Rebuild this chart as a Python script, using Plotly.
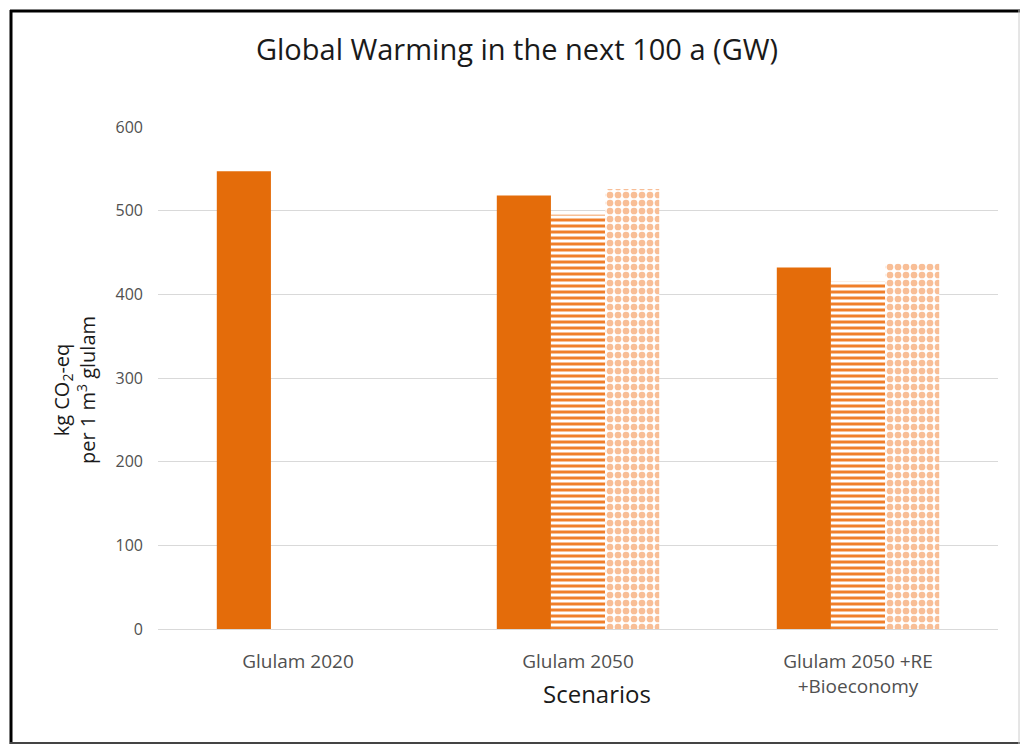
import plotly.graph_objects as go

# Scenario categories and GWP100 results (kg CO2-eq per m3 glulam)
categories = ["Glulam 2020", "Glulam 2050", "Glulam 2050 +RE<br>+Bioeconomy"]
base_values = [547, 518, 432]
variant_a_values = [None, 495, 415]
variant_b_values = [None, 526, 437]
y_ticks = [0, 100, 200, 300, 400, 500, 600]

ORANGE = "#E46C0A"
STRIPE = "#F07F2A"
CHECK = "#F8BE96"
GRID = "#D9D9D9"
TICK_COL = "#505050"
FONT = "Open Sans, Noto Sans, sans-serif"

W, H = 1020, 745
M_L, M_R, M_T, M_B = 158, 22, 127, 116
PW, PH = W - M_L - M_R, H - M_T - M_B


def px_x(x):
    return (x - M_L) / PW


def px_y(y):
    return (H - M_B - y) / PH


fig = go.Figure()
fig.add_trace(go.Bar(
    x=categories, y=base_values, name="Base",
    marker=dict(color=ORANGE, line=dict(width=0)),
))
fig.add_trace(go.Bar(
    x=categories, y=variant_a_values, name="Variant A",
    marker=dict(color="white", line=dict(width=0),
                pattern=dict(shape="-", fgcolor=STRIPE, bgcolor="white",
                             size=6, solidity=0.5, fillmode="replace")),
))
fig.add_trace(go.Bar(
    x=categories, y=variant_b_values, name="Variant B",
    marker=dict(color="white", line=dict(width=0),
                pattern=dict(shape=".", fgcolor=CHECK, bgcolor="white",
                             size=8, solidity=0.55, fillmode="replace")),
))

# frame around the whole figure
shapes = [
    dict(type="line", xref="paper", yref="paper", x0=px_x(11), x1=px_x(11),
         y0=px_y(10), y1=px_y(744), line=dict(color="black", width=3)),
    dict(type="line", xref="paper", yref="paper", x0=px_x(10), x1=px_x(1020),
         y0=px_y(11), y1=px_y(11), line=dict(color="black", width=3)),
    dict(type="line", xref="paper", yref="paper", x0=px_x(10), x1=px_x(1020),
         y0=px_y(743), y1=px_y(743), line=dict(color="#444444", width=2)),
    dict(type="line", xref="paper", yref="paper", x0=px_x(1019), x1=px_x(1019),
         y0=px_y(10), y1=px_y(744), line=dict(color="#CCCCCC", width=1)),
]

fig.update_layout(
    width=W, height=H,
    margin=dict(l=M_L, r=M_R, t=M_T, b=M_B),
    paper_bgcolor="white", plot_bgcolor="white",
    barmode="group", bargap=0.42, bargroupgap=0,
    showlegend=False,
    font=dict(family=FONT, color=TICK_COL),
    title=dict(text="Global Warming in the next 100 a (GW)",
               x=517 / W, xanchor="center", xref="container",
               y=1 - 50 / H, yanchor="middle", yref="container",
               font=dict(family=FONT, size=29, color="#1a1a1a")),
    xaxis=dict(showgrid=False, showline=True, linecolor=GRID, linewidth=1,
               ticks="", ticklabelstandoff=15,
               tickfont=dict(family=FONT, size=19, color=TICK_COL)),
    yaxis=dict(range=[0, 600], tickvals=y_ticks, showgrid=True, gridcolor=GRID,
               gridwidth=1, zeroline=False, showline=False, ticks="",
               ticklabelstandoff=14,
               tickfont=dict(family=FONT, size=16, color=TICK_COL)),
    shapes=shapes,
    annotations=[
        dict(text="kg CO<sub>2</sub>-eq<br>per 1 m<sup>3</sup> glulam",
             xref="paper", yref="paper", x=px_x(74), y=px_y(390),
             xanchor="center", yanchor="middle", textangle=-90,
             showarrow=False,
             font=dict(family=FONT, size=20, color="#1a1a1a")),
        dict(text="Scenarios", xref="paper", yref="paper",
             x=px_x(597), y=px_y(693), xanchor="center", yanchor="middle",
             showarrow=False,
             font=dict(family=FONT, size=24, color="#1a1a1a")),
    ],
)

fig.write_html("out.html")
